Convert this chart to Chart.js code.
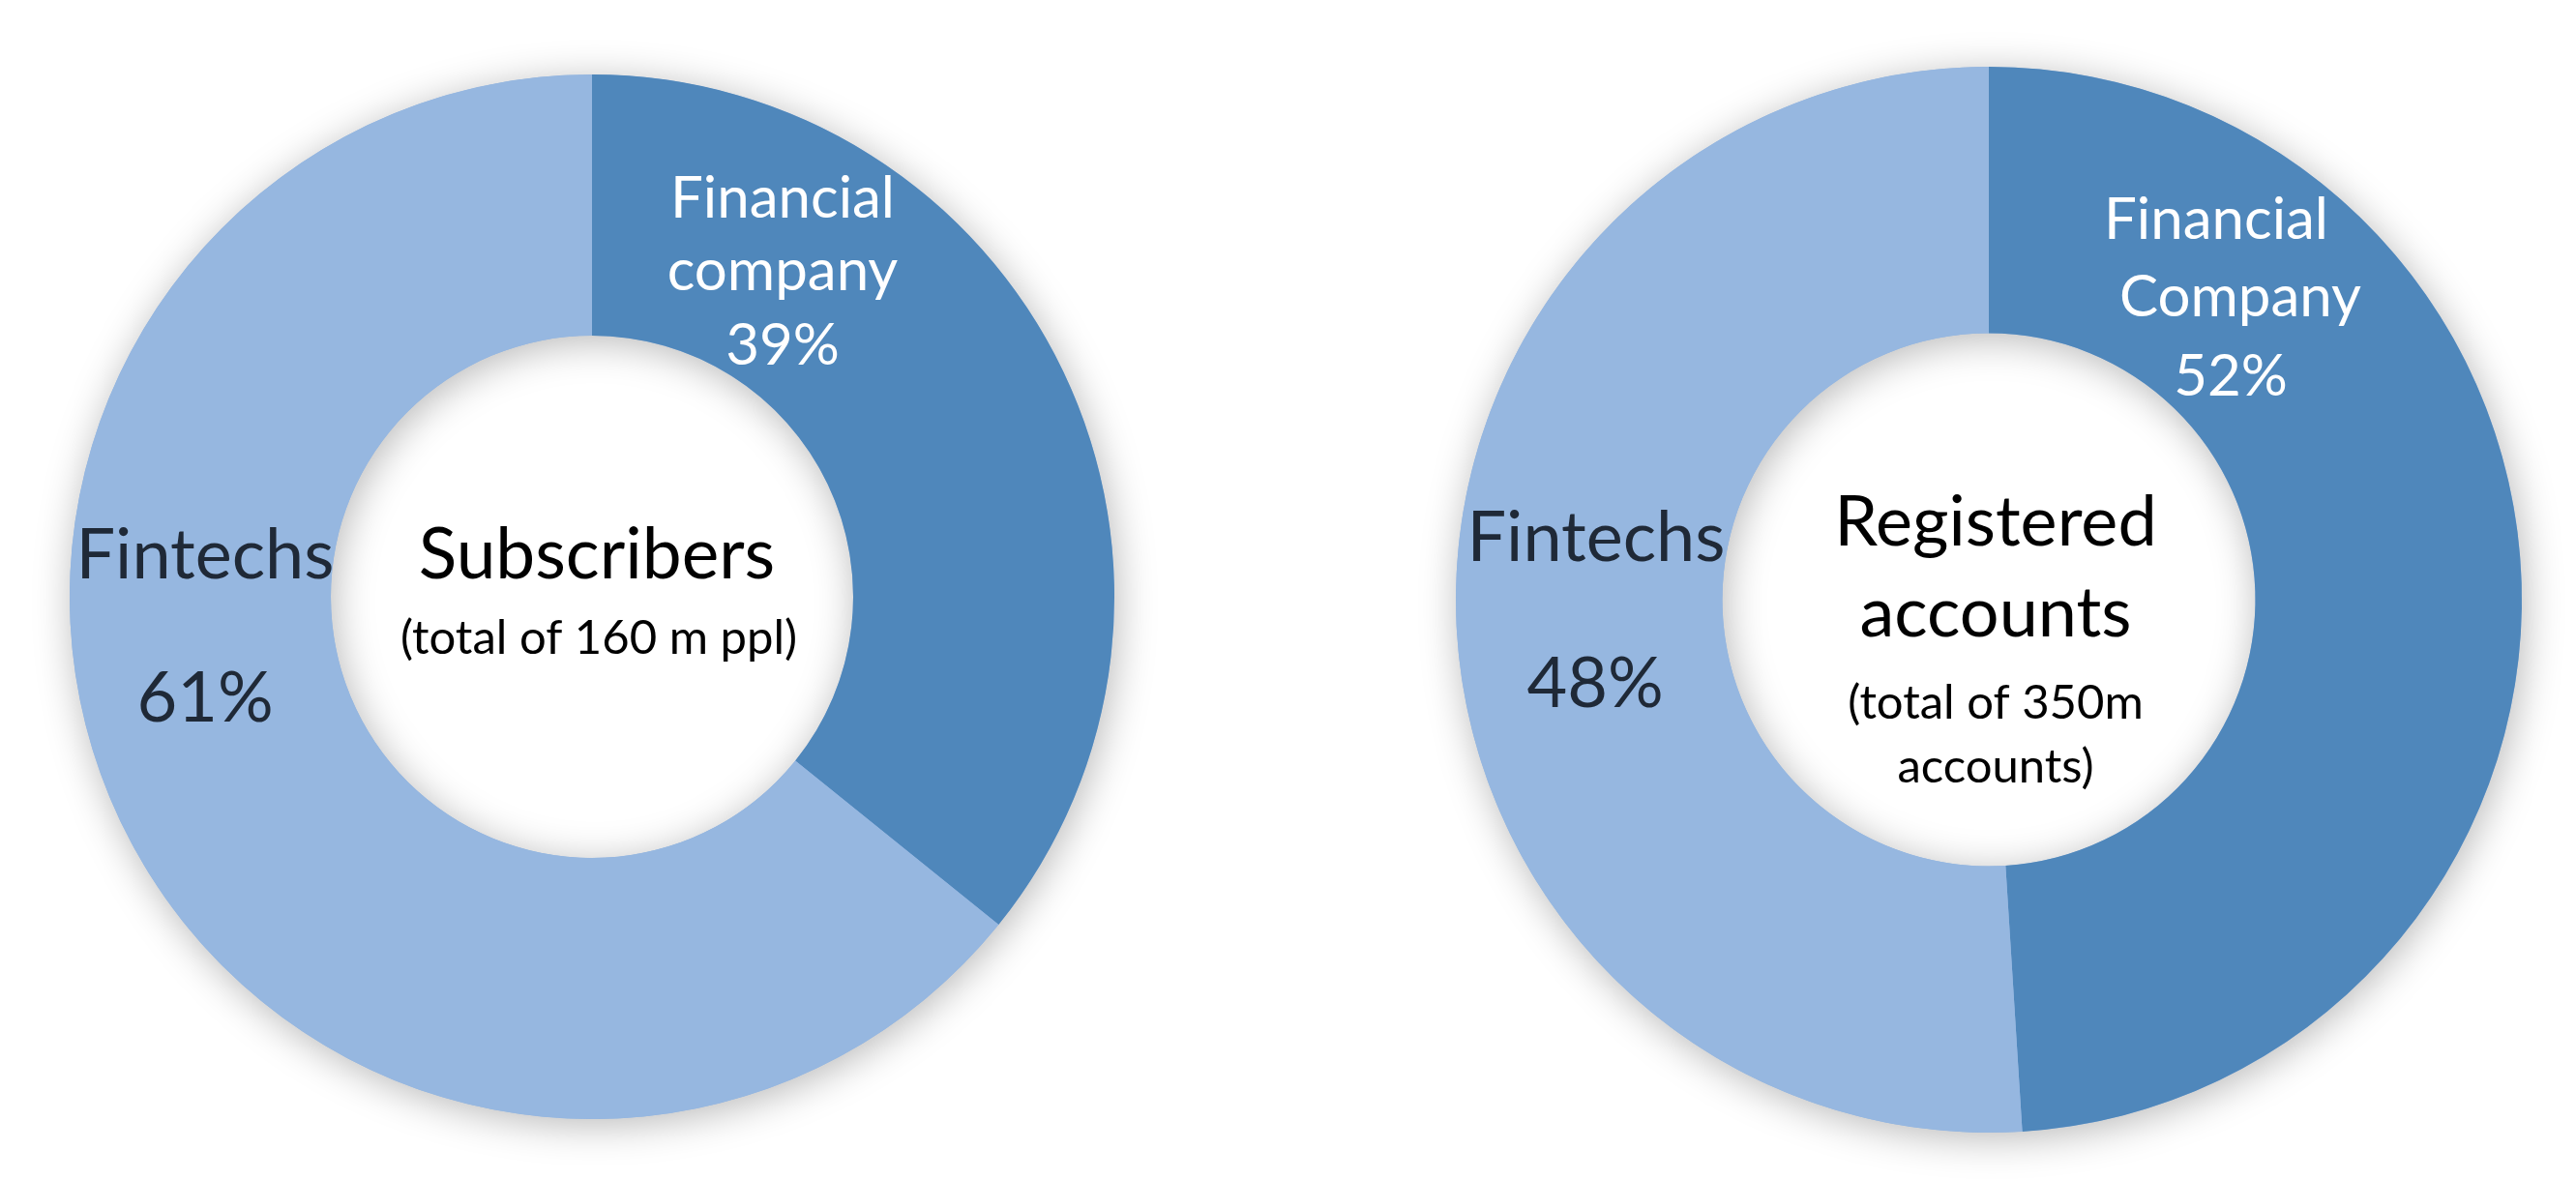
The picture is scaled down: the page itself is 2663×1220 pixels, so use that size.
<!DOCTYPE html>
<html>
<head>
<meta charset="utf-8">
<script src="https://cdn.jsdelivr.net/npm/chart.js@4"></script>
<style>
  html, body { margin: 0; padding: 0; background: #fff; }
  body { width: 2663px; height: 1220px; position: relative; overflow: hidden; }
  .donut { position: absolute; }
  #subsWrap { left: 12px; top: 17px; width: 1200px; height: 1200px; }
  #accWrap { left: 1445px; top: 9px; width: 1222px; height: 1222px; }
</style>
</head>
<body>
<div class="donut" id="subsWrap"><canvas id="subsChart"></canvas></div>
<div class="donut" id="accWrap"><canvas id="accChart"></canvas></div>
<script>
const subscriberCategories = ['Financial company', 'Fintechs'];
const subscriberShares = [35.8, 64.2];
const subscriberPctLabels = ['39%', '61%'];
const subscriberCenter = ['Subscribers', '(total of 160 m ppl)'];

const accountCategories = ['Financial Company', 'Fintechs'];
const accountShares = [49, 51];
const accountPctLabels = ['52%', '48%'];
const accountCenter = ['Registered', 'accounts', '(total of 350m', 'accounts)'];

const darkBlue = '#4f87bb';
const lightBlue = '#96b7e0';
const FONT = 'Lato, "Open Sans", sans-serif';

// soft shadow under the whole ring, drawn before the slices
const ringShadow = {
  id: 'ringShadow',
  beforeDatasetsDraw(chart) {
    const arc = chart.getDatasetMeta(0).data[0];
    if (!arc) return;
    const { x, y, innerRadius, outerRadius } = arc.getProps(['x', 'y', 'innerRadius', 'outerRadius'], true);
    const ctx = chart.ctx;
    ctx.save();
    ctx.shadowColor = 'rgba(0,0,0,0.28)';
    ctx.shadowBlur = 40;
    ctx.shadowOffsetX = 3;
    ctx.shadowOffsetY = 6;
    ctx.beginPath();
    ctx.arc(x, y, outerRadius, 0, Math.PI * 2);
    ctx.arc(x, y, innerRadius, 0, Math.PI * 2, true);
    ctx.fillStyle = lightBlue;
    ctx.fill('evenodd');
    ctx.restore();
  }
};

// text placed relative to the ring centre
function textPlugin(lines) {
  return {
    id: 'ringText',
    afterDatasetsDraw(chart) {
      const arc = chart.getDatasetMeta(0).data[0];
      const { x, y } = arc.getProps(['x', 'y'], true);
      const ctx = chart.ctx;
      ctx.save();
      ctx.textAlign = 'center';
      ctx.textBaseline = 'alphabetic';
      lines.forEach((l) => {
        ctx.font = `${l.size}px ${FONT}`;
        ctx.fillStyle = l.color;
        ctx.fillText(l.text, x + l.dx, y + l.dy);
      });
      ctx.restore();
    }
  };
}

function buildDonut(id, categories, shares, lines) {
  return new Chart(document.getElementById(id), {
    type: 'doughnut',
    data: {
      labels: categories,
      datasets: [{ data: shares, backgroundColor: [darkBlue, lightBlue], borderWidth: 0 }]
    },
    options: {
      responsive: true,
      maintainAspectRatio: false,
      animation: false,
      cutout: '50%',
      rotation: 0,
      layout: { padding: 60 },
      plugins: { legend: { display: false }, tooltip: { enabled: false } }
    },
    plugins: [ringShadow, textPlugin(lines)]
  });
}

const [subFin, subFintech] = subscriberCategories;
buildDonut('subsChart', subscriberCategories, subscriberShares, [
  { text: subFin.split(' ')[0], dx: 197, dy: -392, size: 60, color: '#fff' },
  { text: subFin.split(' ')[1], dx: 197, dy: -317, size: 60, color: '#fff' },
  { text: subscriberPctLabels[0], dx: 197, dy: -240, size: 60, color: '#fff' },
  { text: subFintech, dx: -400, dy: -19, size: 72, color: '#1f2937' },
  { text: subscriberPctLabels[1], dx: -400, dy: 129, size: 72, color: '#1f2937' },
  { text: subscriberCenter[0], dx: 5, dy: -19, size: 73, color: '#000' },
  { text: subscriberCenter[1], dx: 7, dy: 59, size: 49, color: '#000' }
]);

const [accFin, accFintech] = accountCategories;
buildDonut('accChart', accountCategories, accountShares, [
  { text: accFin.split(' ')[0], dx: 235, dy: -373, size: 60, color: '#fff' },
  { text: accFin.split(' ')[1], dx: 260, dy: -293, size: 60, color: '#fff' },
  { text: accountPctLabels[0], dx: 250, dy: -211, size: 60, color: '#fff' },
  { text: accFintech, dx: -406, dy: -40, size: 72, color: '#1f2937' },
  { text: accountPctLabels[1], dx: -407, dy: 111, size: 72, color: '#1f2937' },
  { text: accountCenter[0], dx: 7, dy: -56, size: 72, color: '#000' },
  { text: accountCenter[1], dx: 7, dy: 38, size: 72, color: '#000' },
  { text: accountCenter[2], dx: 7, dy: 123, size: 49, color: '#000' },
  { text: accountCenter[3], dx: 7, dy: 189, size: 49, color: '#000' }
]);
</script>
</body>
</html>
